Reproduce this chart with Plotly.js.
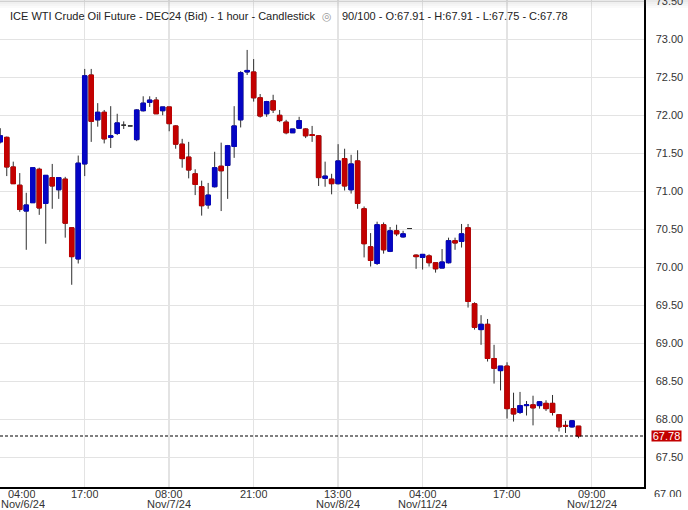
<!DOCTYPE html>
<html>
<head>
<meta charset="utf-8">
<script src="https://cdn.plot.ly/plotly-3.0.1.min.js"></script>
<style>
  html, body { margin: 0; padding: 0; background: #fff; }
  #chart { width: 688px; height: 510px; }
</style>
</head>
<body>
<div id="chart"></div>
<script>
// ---- data (hourly bars, index 0..89) ----
var barIndex = [];
for (var k = 0; k < 90; k++) barIndex.push(k);

var openPrices = [
  71.65, 71.71, 71.32, 71.08, 70.74, 70.85, 71.29, 70.84, 71.18, 71.02,
  71.16, 70.52, 70.11, 71.36, 72.53, 71.94, 72.04, 71.71, 71.76, 71.87,
  71.86, 71.68, 72.06, 72.17, 72.20, 72.06, 72.11, 71.86, 71.62, 71.45,
  71.23, 71.06, 70.82, 71.06, 71.33, 71.34, 71.59, 71.94, 72.57, 72.57,
  72.23, 72.02, 72.19, 72.00, 71.91, 71.77, 71.83, 71.82, 71.745, 71.73,
  71.17, 71.16, 71.10, 71.43, 71.02, 71.40, 70.77, 70.27, 70.05, 70.56,
  70.21, 70.48, 70.40, 70.51, 70.16, 70.13, 70.15, 70.06, 69.99, 70.06,
  70.35, 70.34, 70.52, 69.52, 69.18, 69.25, 68.80, 68.64, 68.70, 68.14,
  68.09, 68.18, 68.19, 68.18, 68.21, 68.21, 68.06, 67.92, 67.90, 67.91
];
var highPrices = [
  71.83, 71.72, 71.39, 71.24, 70.98, 71.31, 71.31, 71.21, 71.36, 71.18,
  71.19, 70.52, 71.47, 72.61, 72.61, 72.16, 72.07, 72.12, 72.02, 71.92,
  71.86, 72.08, 72.25, 72.25, 72.24, 72.11, 72.11, 71.87, 71.69, 71.65,
  71.29, 71.14, 71.11, 71.52, 71.64, 71.61, 72.12, 72.58, 72.86, 72.74,
  72.28, 72.19, 72.27, 72.07, 71.94, 71.82, 71.98, 71.83, 71.86, 71.74,
  71.39, 71.23, 71.62, 71.56, 71.48, 71.54, 70.80, 70.45, 70.60, 70.59,
  70.53, 70.56, 70.48, 70.51, 70.17, 70.17, 70.17, 70.06, 70.24, 70.39,
  70.39, 70.57, 70.57, 69.54, 69.37, 69.32, 68.98, 68.70, 68.75, 68.35,
  68.36, 68.24, 68.31, 68.24, 68.25, 68.32, 68.06, 67.98, 67.99, 67.91
];
var lowPrices = [
  71.63, 71.20, 71.10, 70.73, 70.23, 70.85, 70.69, 70.31, 70.77, 70.90,
  70.39, 69.77, 70.05, 71.20, 71.65, 71.85, 71.63, 71.57, 71.74, 71.82,
  71.86, 71.66, 72.05, 72.11, 72.02, 72.00, 71.79, 71.56, 71.31, 71.17,
  70.95, 70.68, 70.77, 71.05, 70.74, 70.90, 71.44, 71.84, 72.53, 72.18,
  71.97, 71.98, 72.03, 71.91, 71.75, 71.77, 71.83, 71.70, 71.65, 71.07,
  71.06, 70.96, 71.09, 71.01, 70.97, 70.77, 70.13, 70.01, 70.03, 70.18,
  70.20, 70.41, 70.39, 70.51, 69.98, 69.97, 70.01, 69.93, 69.99, 70.05,
  70.23, 70.26, 69.47, 69.18, 68.98, 68.76, 68.47, 68.38, 68.01, 67.97,
  68.07, 68.05, 67.92, 68.14, 68.11, 68.05, 67.84, 67.82, 67.89, 67.75
];
var closePrices = [
  71.73, 71.32, 71.10, 70.76, 70.82, 71.31, 70.78, 71.21, 71.07, 71.18,
  70.58, 70.14, 71.37, 72.52, 71.92, 72.04, 71.69, 71.73, 71.90, 71.87,
  71.86, 72.07, 72.16, 72.20, 72.02, 72.11, 71.89, 71.62, 71.43, 71.28,
  71.09, 70.81, 70.95, 71.31, 71.27, 71.60, 71.86, 72.56, 72.59, 72.23,
  71.99, 72.18, 72.07, 71.93, 71.77, 71.82, 71.93, 71.73, 71.735, 71.18,
  71.20, 71.10, 71.40, 71.07, 71.36, 70.84, 70.31, 70.09, 70.56, 70.23,
  70.48, 70.44, 70.44, 70.51, 70.14, 70.17, 70.06, 69.98, 70.07, 70.35,
  70.32, 70.44, 69.55, 69.21, 69.25, 68.80, 68.67, 68.70, 68.14, 68.07,
  68.18, 68.19, 68.15, 68.23, 68.14, 68.09, 67.90, 67.91, 67.98, 67.78
];

// ---- axis labels ----
var gridTickVals = [0, 13, 26, 39, 52, 65, 78, 91];
var timeLabels   = ['04:00', '17:00', '08:00', '21:00', '13:00', '04:00', '17:00', '09:00'];
var dateTickVals = [0, 26, 52, 65, 91];
var dateLabels   = ['Nov/6/24', 'Nov/7/24', 'Nov/8/24', 'Nov/11/24', 'Nov/12/24'];

var chartTitle = 'ICE WTI Crude Oil Future - DEC24 (Bid) - 1 hour - Candlestick';
var barCounter = '90/100';

// ---- derived ----
var n = barIndex.length;
var lastO = openPrices[n - 1], lastH = highPrices[n - 1], lastL = lowPrices[n - 1], lastC = closePrices[n - 1];
var statsText = barCounter + ' - O:' + lastO.toFixed(2) + ' - H:' + lastH.toFixed(2) +
                ' - L:' + lastL.toFixed(2) + ' - C:' + lastC.toFixed(2);

var bodyO = [], bodyC = [], bodyH = [], bodyL = [];
for (var i = 0; i < n; i++) {
  var o = openPrices[i], c = closePrices[i];
  if (o === c) { bodyO.push(null); bodyC.push(null); bodyH.push(null); bodyL.push(null); }
  else { bodyO.push(o); bodyC.push(c); bodyH.push(Math.max(o, c)); bodyL.push(Math.min(o, c)); }
}

var UP = '#0505c4', DOWN = '#c30000', WICK = '#2e2e2e';
var FONT = 'Liberation Sans, Arial, Helvetica, sans-serif';
var XR = [-0.04, 99.08];

var traces = [
  { // wicks (and neutral dojis)
    type: 'candlestick', x: barIndex,
    open: openPrices, high: highPrices, low: lowPrices, close: closePrices,
    increasing: { line: { color: WICK, width: 1 }, fillcolor: WICK },
    decreasing: { line: { color: WICK, width: 1 }, fillcolor: WICK },
    whiskerwidth: 0, hoverinfo: 'skip', showlegend: false
  },
  { // coloured bodies
    type: 'candlestick', x: barIndex,
    open: bodyO, high: bodyH, low: bodyL, close: bodyC,
    increasing: { line: { color: UP, width: 1 }, fillcolor: UP },
    decreasing: { line: { color: DOWN, width: 1 }, fillcolor: DOWN },
    whiskerwidth: 0, hoverinfo: 'skip', showlegend: false
  }
];

var W = 688, H = 510, mR = 44, mB = 23;
var plotW = W - mR, plotH = H - mB;
function py(px) { return 1 - px / plotH; }   // pixel from top -> paper y
function pxX(px) { return px / plotW; }      // pixel from left -> paper x

var tickFont = { family: FONT, size: 11, color: '#333' };

var shapes = [
  { type: 'line', xref: 'paper', x0: 0, x1: 1, yref: 'y', y0: lastC, y1: lastC,
    line: { color: '#000', width: 1.2, dash: '3px,2px' }, layer: 'above' }
];
var bandAlpha = [0.16, 0.11, 0.07, 0.035];
for (var b = 0; b < bandAlpha.length; b++) {
  shapes.push({ type: 'rect', xref: 'paper', yref: 'paper', x0: 0, x1: W / plotW,
    y0: py(2 * (b + 1)), y1: py(2 * b), fillcolor: 'rgba(120,120,120,' + bandAlpha[b] + ')',
    line: { width: 0 }, layer: 'above' });
}

var annotations = [
  { xref: 'paper', yref: 'paper', x: pxX(8), y: py(16), xanchor: 'left', yanchor: 'middle',
    text: chartTitle, showarrow: false, font: { family: FONT, size: 11, color: '#222' } },
  { xref: 'paper', yref: 'paper', x: pxX(327), y: py(16), xanchor: 'center', yanchor: 'middle',
    text: '\u25CE', showarrow: false, font: { family: 'DejaVu Sans, sans-serif', size: 11, color: '#9a9a9a' } },
  { xref: 'paper', yref: 'paper', x: pxX(340), y: py(16), xanchor: 'left', yanchor: 'middle',
    text: statsText, showarrow: false, font: { family: FONT, size: 11, color: '#222' } },
  { xref: 'paper', yref: 'y', x: 1, xshift: 6.5, y: lastC, xanchor: 'left', yanchor: 'middle',
    text: lastC.toFixed(2), showarrow: false, bgcolor: DOWN, borderpad: 0, width: 29, height: 10,
    font: { family: FONT, size: 11, color: '#fff' } },
  { xref: 'paper', yref: 'paper', x: 1, xshift: 9, y: py(486.5), xanchor: 'left', yanchor: 'top',
    text: '67.00', showarrow: false, height: 9, valign: 'top', borderpad: 0,
    font: { family: FONT, size: 11, color: '#333' } }
];

// time-axis labels (first one is pushed right so it fits, as in the reference)
for (var t = 0; t < gridTickVals.length; t++) {
  var first = gridTickVals[t] === 0;
  annotations.push({
    xref: first ? 'paper' : 'x', x: first ? pxX(22) : gridTickVals[t],
    yref: 'paper', y: py(493.5), xanchor: 'center', yanchor: 'middle', height: 10,
    text: timeLabels[t], showarrow: false, borderpad: 0, font: tickFont
  });
}
for (var d = 0; d < dateTickVals.length; d++) {
  var firstD = dateTickVals[d] === 0;
  annotations.push({
    xref: firstD ? 'paper' : 'x', x: firstD ? 0 : dateTickVals[d],
    yref: 'paper', y: py(504), xanchor: firstD ? 'left' : 'center', yanchor: 'middle', height: 10,
    text: dateLabels[d], showarrow: false, borderpad: 0, font: tickFont
  });
}

var layout = {
  width: W, height: H,
  margin: { l: 0, r: mR, t: 0, b: mB, pad: 0 },
  paper_bgcolor: '#fff', plot_bgcolor: '#fff',
  showlegend: false,
  boxgap: 0.31, boxgroupgap: 0,
  xaxis: {
    type: 'linear', range: XR, fixedrange: true,
    rangeslider: { visible: false },
    tickmode: 'array', tickvals: gridTickVals, ticktext: timeLabels, showticklabels: false,
    showgrid: true, gridcolor: '#e3e3e3', gridwidth: 1.5,
    zeroline: false, showline: true, linecolor: '#000', linewidth: 1.5, ticks: ''
  },
  yaxis: {
    side: 'right', range: [67.109, 73.517], fixedrange: true,
    tickmode: 'linear', tick0: 67, dtick: 0.5, tickformat: '.2f',
    showgrid: true, gridcolor: '#e3e3e3', gridwidth: 1.5,
    zeroline: false, showline: true, linecolor: '#000', linewidth: 1.5,
    ticks: '', tickfont: tickFont, ticklabelstandoff: 8, ticklabeloverflow: 'allow'
  },
  shapes: shapes,
  annotations: annotations
};

Plotly.newPlot('chart', traces, layout, { staticPlot: true, displayModeBar: false });
</script>
</body>
</html>
